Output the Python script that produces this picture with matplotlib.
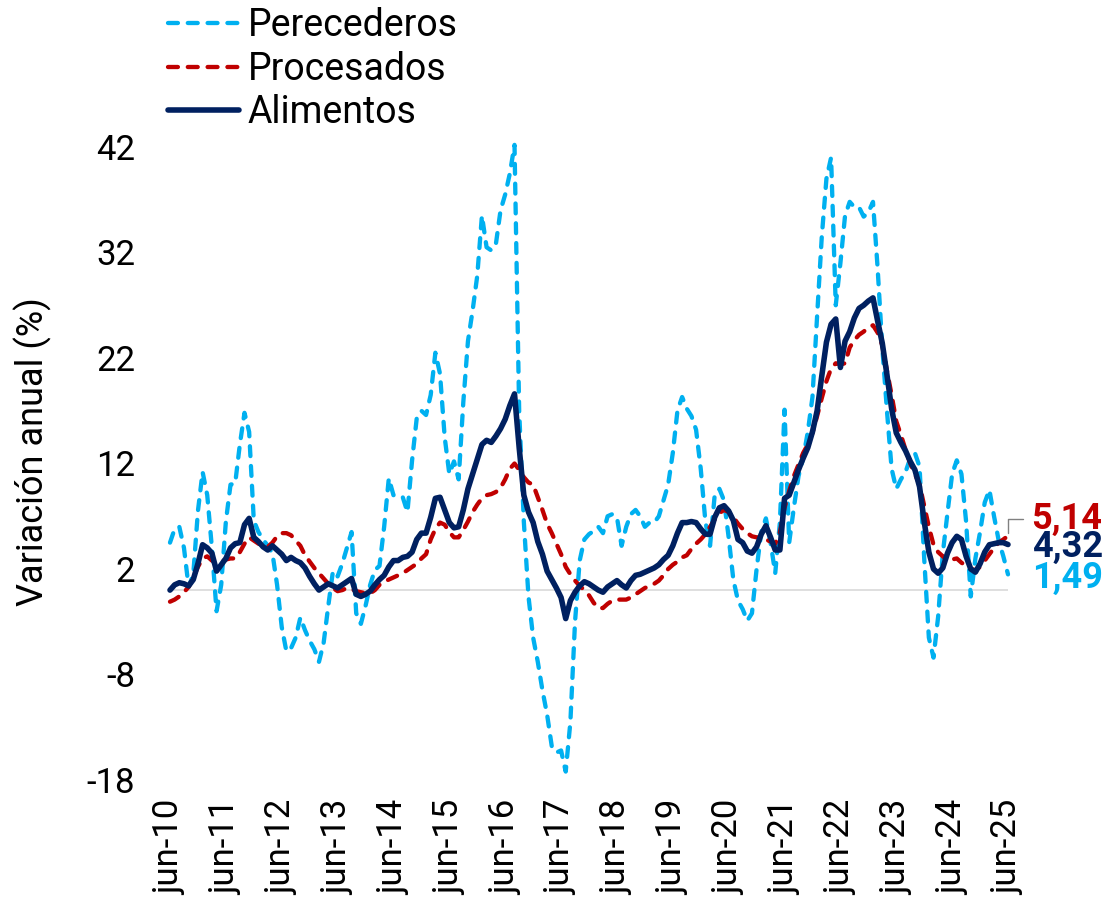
import numpy as np
import matplotlib
matplotlib.use("Agg")
import matplotlib.pyplot as plt

plt.rcParams['font.family'] = ['Roboto', 'DejaVu Sans']
plt.rcParams['axes.unicode_minus'] = False

# monthly data, jun-10 .. jun-25
alimentos = [
    0.0, 0.5, 0.7, 0.6, 0.4, 1.0, 2.5, 4.3, 4.0, 3.5, 1.8, 2.4,
    3.0, 4.0, 4.4, 4.5, 6.2, 6.8, 5.0, 4.6, 4.1, 3.8, 4.2, 3.8,
    3.4, 2.8, 3.1, 2.8, 2.6, 2.1, 1.3, 0.6, 0.0, 0.3, 0.6, 0.4,
    0.2, 0.5, 0.8, 1.1, -0.4, -0.6, -0.4, -0.1, 0.5, 1.0, 1.4, 2.2,
    2.8, 2.8, 3.1, 3.2, 3.6, 4.8, 5.4, 5.4, 6.9, 8.7, 8.8, 7.6,
    6.4, 5.9, 6.0, 7.6, 9.6, 11.0, 12.4, 13.8, 14.2, 14.0, 14.6, 15.3,
    16.2, 17.5, 18.6, 13.5, 9.0, 7.4, 6.4, 4.6, 3.4, 1.8, 1.0, 0.2,
    -0.7, -2.7, -1.0, -0.2, 0.4, 0.8, 0.6, 0.3, 0.0, -0.2, 0.3, 0.6,
    0.9, 0.5, 0.2, 0.9, 1.4, 1.5, 1.7, 1.9, 2.1, 2.4, 2.9, 3.3,
    4.2, 5.4, 6.4, 6.4, 6.5, 6.4, 5.8, 5.3, 5.3, 6.9, 7.8, 8.0,
    7.5, 6.6, 4.8, 4.5, 3.7, 3.5, 4.1, 5.3, 6.1, 5.0, 3.8, 3.8,
    8.7, 9.0, 10.2, 11.4, 12.5, 13.5, 15.0, 17.0, 20.3, 23.5, 25.2, 25.7,
    21.1, 23.6, 24.5, 25.8, 26.7, 27.0, 27.4, 27.7, 25.5, 23.4, 20.4, 17.2,
    14.9, 14.0, 13.2, 12.2, 11.4, 9.8, 6.5, 3.6, 2.0, 1.6, 2.1, 3.5,
    4.5, 5.1, 4.8, 3.2, 2.0, 1.7, 2.5, 3.6, 4.3, 4.4, 4.5, 4.5,
    4.32,
]

procesados = [
    -1.1, -0.9, -0.6, -0.2, 0.3, 1.2, 2.2, 3.0, 3.2, 2.8, 2.7, 2.7,
    2.9, 3.0, 3.0, 3.6, 4.4, 5.0, 4.7, 4.4, 4.2, 4.1, 4.5, 5.1,
    5.4, 5.4, 5.2, 4.7, 4.2, 3.3, 2.7, 2.1, 1.6, 1.1, 0.6, 0.2,
    -0.1, 0.0, 0.2, 0.1, -0.1, -0.2, -0.3, -0.3, 0.0, 0.5, 0.8, 1.0,
    1.2, 1.4, 1.6, 1.9, 2.2, 2.5, 3.0, 3.4, 4.8, 5.8, 6.4, 6.2,
    5.5, 5.0, 5.0, 5.7, 6.5, 7.4, 8.1, 8.7, 9.0, 9.1, 9.3, 9.7,
    10.5, 11.5, 12.0, 11.4, 10.7, 10.2, 10.0, 8.8, 7.6, 6.3, 5.4, 4.4,
    3.4, 2.2, 1.5, 0.9, 0.4, 0.0, -0.5, -1.2, -1.7, -1.7, -1.3, -1.0,
    -0.9, -0.9, -0.9, -0.7, -0.4, -0.1, 0.2, 0.4, 0.6, 0.9, 1.4, 2.0,
    2.4, 2.7, 3.1, 3.3, 3.9, 4.4, 4.8, 5.3, 6.0, 6.7, 7.3, 7.6,
    7.4, 6.9, 6.3, 5.8, 5.4, 5.1, 5.0, 5.0, 4.8, 4.6, 4.4, 5.5,
    7.8, 9.4, 10.8, 11.9, 13.0, 13.8, 14.9, 16.5, 18.2, 19.8, 21.0, 21.5,
    21.4, 21.5, 23.0, 23.7, 24.2, 24.5, 24.9, 25.1, 24.4, 23.2, 20.8, 18.5,
    16.0, 14.7, 13.3, 12.0, 11.0, 10.0, 8.0, 6.0, 4.3, 3.6, 3.2, 2.8,
    2.9, 3.0, 2.6, 2.3, 2.0, 1.9, 2.2, 2.8, 3.4, 4.0, 4.5, 4.8,
    5.14,
]

perecederos = [
    4.5, 5.8, 6.0, 4.0, 0.3, 1.5, 7.5, 11.2, 9.0, 4.0, -2.0, 0.5,
    6.5, 10.0, 10.1, 13.8, 16.8, 15.0, 6.6, 5.5, 4.8, 4.2, 3.5, 0.5,
    -3.5, -5.8, -5.5, -4.5, -2.6, -3.8, -4.8, -5.6, -6.8, -5.0, -1.5, 1.8,
    1.3, 2.5, 4.0, 5.5, -2.2, -3.2, -1.5, 0.5, 1.9, 2.3, 6.0, 10.6,
    9.0, 8.8, 8.8, 7.4, 12.3, 16.3, 17.0, 16.6, 18.5, 22.5, 20.5, 14.5,
    11.0, 12.2, 10.5, 17.8, 23.6, 26.5, 29.8, 35.5, 32.5, 32.2, 32.8, 36.0,
    37.5, 39.5, 42.2, 17.0, 6.5, -0.6, -4.5, -6.8, -9.5, -11.8, -14.8, -15.4,
    -15.2, -17.2, -12.5, -3.0, 2.8, 4.8, 5.3, 5.6, 6.0, 5.4, 7.0, 7.2,
    6.9, 4.2, 6.0, 7.2, 7.6, 7.0, 6.0, 6.4, 6.4, 7.0, 8.5, 10.0,
    13.0, 17.0, 18.3, 17.2, 16.5, 15.2, 11.5, 6.5, 4.2, 9.0, 9.6, 8.5,
    5.0, 1.0, -1.0, -1.8, -2.9, -2.2, 2.0, 5.5, 6.8, 4.5, 1.6, 6.4,
    17.1, 4.5, 7.8, 10.8, 12.5, 15.0, 18.3, 26.0, 33.5, 39.0, 41.0, 27.0,
    31.0, 35.5, 36.8, 36.3, 36.3, 35.4, 35.8, 36.8, 30.5, 23.0, 17.0, 11.5,
    9.6, 10.5, 11.2, 12.5, 13.0, 11.7, 3.0, -4.5, -6.4, -2.5, 3.5, 7.3,
    11.0, 12.3, 11.0, 6.5, -0.6, 3.0, 5.5, 8.3, 9.5, 7.0, 4.7, 3.2,
    1.49,
]

tick_labels = ["jun-10", "jun-11", "jun-12", "jun-13", "jun-14", "jun-15",
               "jun-16", "jun-17", "jun-18", "jun-19", "jun-20", "jun-21",
               "jun-22", "jun-23", "jun-24", "jun-25"]
y_ticks = [-18, -8, 2, 12, 22, 32, 42]

c_per = '#00B0F0'
c_pro = '#C00000'
c_ali = '#002060'

x = np.arange(len(alimentos))

fig = plt.figure(figsize=(11.06, 9.11), dpi=100)
ax = fig.add_axes([170 / 1106, 1 - 780 / 911, (1008 - 170) / 1106, (780 - 147) / 911])

ax.axhline(0, color='#D9D9D9', lw=1.2, zorder=1)

l1, = ax.plot(x, perecederos, color=c_per, lw=3.1, zorder=2, clip_on=False,
              dash_capstyle='round')
l1.set_dashes((2.3, 2.3))
l2, = ax.plot(x, procesados, color=c_pro, lw=3.1, zorder=3, clip_on=False,
              dash_capstyle='round')
l2.set_dashes((2.3, 2.3))
l3, = ax.plot(x, alimentos, color=c_ali, lw=4.0, zorder=4, clip_on=False,
              solid_capstyle='round', solid_joinstyle='round')

ax.set_xlim(0, len(x) - 1)
ax.set_ylim(-18, 42)
ax.set_yticks(y_ticks)
ax.set_xticks(x[::12])
ax.set_xticklabels(tick_labels, rotation=90)
ax.tick_params(axis='y', length=0, pad=25, labelsize=25)
ax.tick_params(axis='x', length=0, pad=14, labelsize=25)
for s in ax.spines.values():
    s.set_visible(False)

fig.text(33 / 1106, 1 - 452 / 911, 'Variación anual (%)', rotation=90,
         ha='center', va='center', fontsize=26)

fig.legend([l1, l2, l3], ['Perecederos', 'Procesados', 'Alimentos'],
           loc='upper left', bbox_to_anchor=(0.152, 0.992), frameon=False,
           fontsize=27, handlelength=1.9, handletextpad=0.22,
           labelspacing=0.17, borderpad=0, borderaxespad=0)

# end labels
last = len(x) - 1
ax.annotate('5,14', xy=(last, procesados[-1]), xytext=(17, 12),
            textcoords='offset points', ha='left', va='center',
            fontsize=26, fontweight='bold', color=c_pro,
            arrowprops=dict(arrowstyle='-', color='#808080', lw=1,
                            shrinkA=4, shrinkB=2,
                            connectionstyle='angle,angleA=0,angleB=90,rad=0'))
ax.annotate('4,32', xy=(last, alimentos[-1]), xytext=(17, -2),
            textcoords='offset points', ha='left', va='center',
            fontsize=26, fontweight='bold', color=c_ali)
ax.annotate('1,49', xy=(last, perecederos[-1]), xytext=(17, -2.5),
            textcoords='offset points', ha='left', va='center',
            fontsize=26, fontweight='bold', color=c_per)

fig.savefig('out.png', dpi=100)
